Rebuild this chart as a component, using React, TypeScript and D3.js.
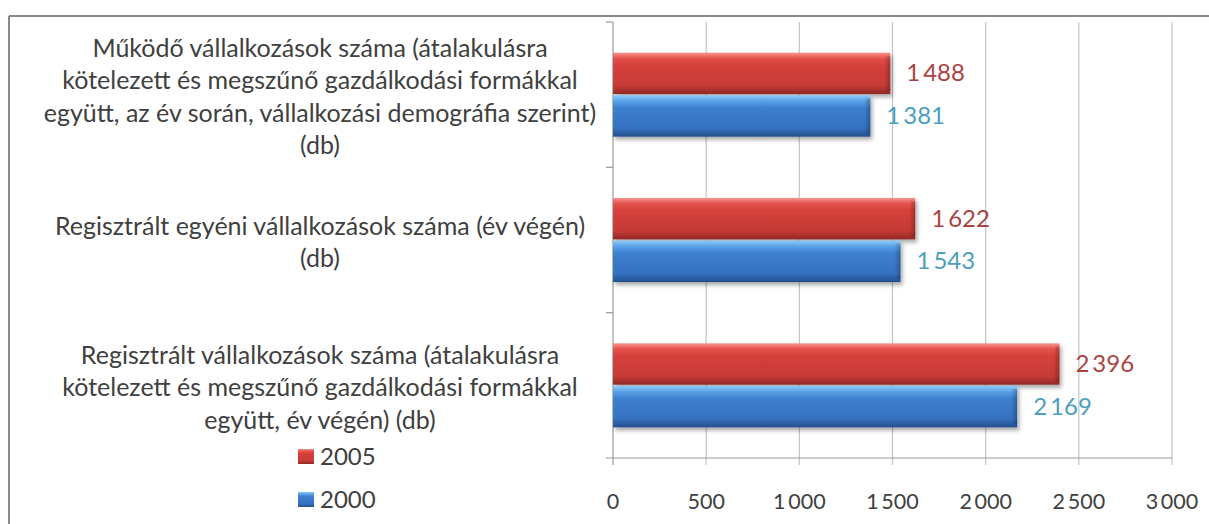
import React from "react";
import * as d3 from "d3";

const categories = [
  ["Működő vállalkozások száma (átalakulásra", "kötelezett és megszűnő gazdálkodási formákkal", "együtt, az év során, vállalkozási demográfia szerint)", "(db)"],
  ["Regisztrált egyéni vállalkozások száma (év végén)", "(db)"],
  ["Regisztrált vállalkozások száma (átalakulásra", "kötelezett és megszűnő gazdálkodási formákkal", "együtt, év végén) (db)"],
];
const series2005 = [1488, 1622, 2396];
const series2000 = [1381, 1543, 2169];
const seriesNames = ["2005", "2000"];
const xTicks = [0, 500, 1000, 1500, 2000, 2500, 3000];

const W = 1209;
const H = 524;
const FONT = "Lato, 'Noto Sans', sans-serif";

const loc = d3.formatLocale({ decimal: ",", thousands: "\u2009", grouping: [3], currency: ["", " Ft"] });
const fmt = loc.format(",d");

export default function App() {
  const x = d3.scaleLinear().domain([0, 3000]).range([613, 1172]);
  const y = d3.scaleBand<number>().domain([0, 1, 2]).range([22, 458]).paddingInner(0).paddingOuter(0);
  const inner = d3.scaleBand<string>().domain(seriesNames).range([0, 84]).paddingInner(0.03);
  const groupOffset = (y.bandwidth() - 84) / 2;
  const data = [series2005, series2000];
  const labelColors = ["#a94442", "#4a9fbd"];
  const gradIds = ["gRed", "gBlue"];

  return (
    <svg width={W} height={H} style={{ position: "absolute", left: 0, top: 0, background: "#fff" }}>
      <defs>
        <linearGradient id="gRed" x1="0" y1="0" x2="0" y2="1">
          <stop offset="0" stopColor="#f8928c" />
          <stop offset="0.14" stopColor="#e4524c" />
          <stop offset="0.3" stopColor="#d6403b" />
          <stop offset="0.8" stopColor="#c63a36" />
          <stop offset="1" stopColor="#8f2826" />
        </linearGradient>
        <linearGradient id="gBlue" x1="0" y1="0" x2="0" y2="1">
          <stop offset="0" stopColor="#8ccaf9" />
          <stop offset="0.14" stopColor="#5aa2e6" />
          <stop offset="0.3" stopColor="#3e80cf" />
          <stop offset="0.8" stopColor="#3571bf" />
          <stop offset="1" stopColor="#234f8c" />
        </linearGradient>
        <linearGradient id="gEnd" x1="0" y1="0" x2="1" y2="0">
          <stop offset="0" stopColor="#000" stopOpacity="0" />
          <stop offset="1" stopColor="#000" stopOpacity="0.25" />
        </linearGradient>
        <filter id="shadow" x="-5%" y="-20%" width="110%" height="150%">
          <feGaussianBlur in="SourceAlpha" stdDeviation="2" />
          <feOffset dx="2" dy="3" result="b" />
          <feComponentTransfer><feFuncA type="linear" slope="0.35" /></feComponentTransfer>
          <feMerge><feMergeNode /><feMergeNode in="SourceGraphic" /></feMerge>
        </filter>
      </defs>
      {/* border */}
      <line x1={9} y1={16} x2={W} y2={16} stroke="#8a8a8a" strokeWidth={2} />
      <line x1={9} y1={16} x2={9} y2={H} stroke="#8a8a8a" strokeWidth={2} />

      {/* gridlines */}
      {xTicks.slice(1).map((t) => (
        <line key={t} x1={x(t)} x2={x(t)} y1={22} y2={465} stroke="#c4c4c4" strokeWidth={1.2} />
      ))}
      {/* axes */}
      <line x1={x(0)} x2={x(0)} y1={22} y2={465} stroke="#9a9a9a" strokeWidth={1.2} />
      <line x1={606} x2={x(3000)} y1={458} y2={458} stroke="#9a9a9a" strokeWidth={1.2} />
      {[0, 1, 2].map((i) => (
        <line key={i} x1={606} x2={x(0)} y1={y(i)!} y2={y(i)!} stroke="#9a9a9a" strokeWidth={1.2} />
      ))}
      {xTicks.map((t) => (
        <text key={t} x={x(t)} y={509} textAnchor="middle" fontFamily={FONT} fontSize={21.5} fill="#404040">
          {fmt(t)}
        </text>
      ))}

      {/* bars */}
      {data.map((vals, si) =>
        vals.map((v, ci) => {
          const by = y(ci)! + groupOffset + inner(seriesNames[si])!;
          const bh = inner.bandwidth();
          const bw = x(v) - x(0);
          return (
            <g key={`${si}-${ci}`}>
              <g filter="url(#shadow)">
                <rect x={x(0)} y={by} width={bw} height={bh} fill={`url(#${gradIds[si]})`} />
              </g>
              <rect x={x(v) - 6} y={by + 3} width={6} height={bh - 6} fill="url(#gEnd)" />
              <text x={x(v) + 16} y={by + bh / 2 + 8} fontFamily={FONT} fontSize={24} fill={labelColors[si]}>
                {fmt(v)}
              </text>
            </g>
          );
        })
      )}

      {/* category labels */}
      {categories.map((lines, ci) => {
        const cy = y(ci)! + y.bandwidth() / 2;
        const lh = 32.5;
        const start = cy - ((lines.length - 1) * lh) / 2;
        return (
          <text key={ci} textAnchor="middle" fontFamily={FONT} fontSize={25} fill="#404040">
            {lines.map((l, li) => (
              <tspan key={li} x={320} y={start + li * lh + 11}>{l}</tspan>
            ))}
          </text>
        );
      })}

      {/* legend */}
      {seriesNames.map((n, i) => (
        <g key={n} transform={`translate(298, ${449 + i * 43})`}>
          <rect x={0} y={0} width={16} height={15} fill={`url(#${gradIds[i]})`} />
          <text x={22} y={16} fontFamily={FONT} fontSize={24} fill="#404040">{n}</text>
        </g>
      ))}
    </svg>
  );
}
